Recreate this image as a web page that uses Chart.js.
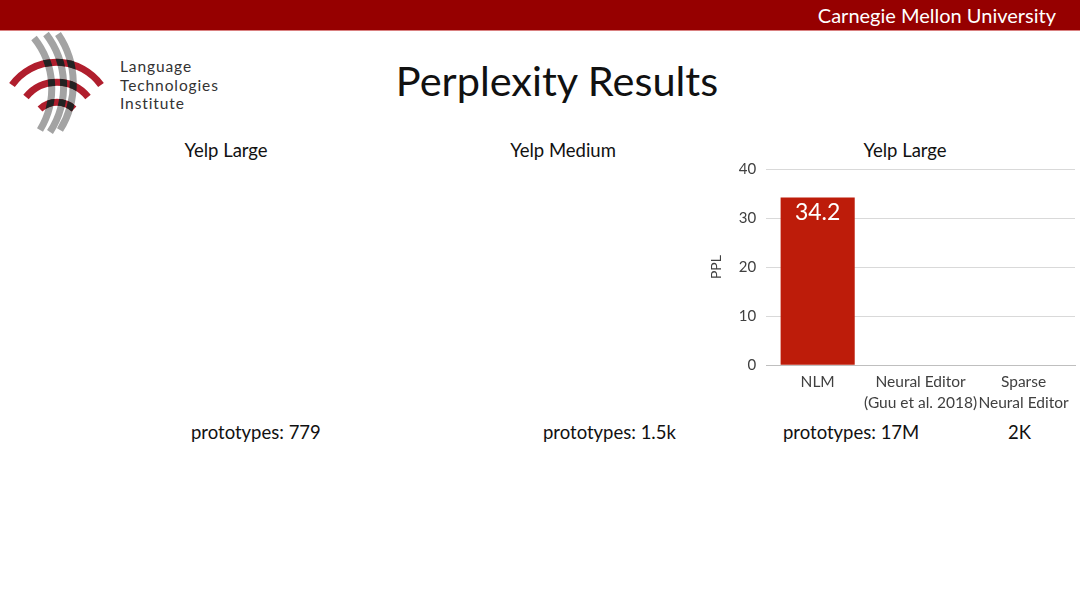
<!DOCTYPE html>
<html>
<head>
<meta charset="utf-8">
<title>Perplexity Results</title>
<script src="https://cdn.jsdelivr.net/npm/chart.js@4.4.0/dist/chart.umd.min.js"></script>
<style>
    body {
        margin: 0;
        width: 1080px;
        height: 607px;
        background: #ffffff;
        font-family: Lato, "Open Sans", sans-serif;
        overflow: hidden;
        position: relative;
    }
    #header {
        position: absolute;
        left: 0;
        top: 0;
        width: 1080px;
        height: 30px;
        background: #960000;
        border-bottom: 1px solid #d98080;
    }
    #header span {
        position: absolute;
        right: 24px;
        top: 3px;
        color: #ffffff;
        font-size: 20px;
    }
    .txt {
        position: absolute;
        color: #111111;
        white-space: nowrap;
    }
    #slideTitle {
        left: 0;
        width: 1114px;
        top: 55px;
        text-align: center;
        font-size: 41.5px;
    }
    .panelTitle {
        top: 139px;
        font-size: 18.5px;
        transform: translateX(-50%);
    }
    .proto {
        top: 421px;
        font-size: 18.5px;
    }
    .logoLine {
        left: 120px;
        font-size: 15.5px;
        line-height: 18.6px;
        letter-spacing: 0.9px;
        color: #333333;
    }
    #chartBox {
        position: absolute;
        left: 700px;
        top: 150px;
        width: 380px;
        height: 269px;
    }
</style>
</head>
<body>
<div id="header"><span>Carnegie Mellon University</span></div>

<svg width="120" height="140" style="position:absolute;left:0;top:30px" viewBox="0 0 120 140">
    <defs>
        <mask id="redMask">
            <rect x="0" y="0" width="120" height="140" fill="black"/>
            <g fill="none" stroke="white" stroke-width="7">
                <path d="M 12 55 A 55 55 0 0 1 101 55"/>
                <path d="M 26 67 A 40 40 0 0 1 88 67"/>
                <path d="M 40 79 A 25 25 0 0 1 74 79"/>
            </g>
        </mask>
    </defs>
    <g fill="none">
        <path d="M 34 8 A 80 80 0 0 1 40 100" stroke="#a3a3a3" stroke-width="7"/>
        <path d="M 46 4 A 85 85 0 0 1 50 102" stroke="#a3a3a3" stroke-width="7"/>
        <path d="M 58 4 A 88 88 0 0 1 60 100" stroke="#a3a3a3" stroke-width="7"/>
        <path d="M 12 55 A 55 55 0 0 1 101 55" stroke="#b01e2d" stroke-width="7"/>
        <path d="M 26 67 A 40 40 0 0 1 88 67" stroke="#b01e2d" stroke-width="7"/>
        <path d="M 40 79 A 25 25 0 0 1 74 79" stroke="#b01e2d" stroke-width="7"/>
        <g mask="url(#redMask)">
            <path d="M 34 8 A 80 80 0 0 1 40 100" stroke="#222222" stroke-width="7"/>
            <path d="M 46 4 A 85 85 0 0 1 50 102" stroke="#222222" stroke-width="7"/>
            <path d="M 58 4 A 88 88 0 0 1 60 100" stroke="#222222" stroke-width="7"/>
        </g>
    </g>
</svg>
<div class="txt logoLine" style="top:57px">Language</div>
<div class="txt logoLine" style="top:75.6px">Technologies</div>
<div class="txt logoLine" style="top:94.2px">Institute</div>

<div class="txt" id="slideTitle">Perplexity Results</div>

<div class="txt panelTitle" style="left:226px">Yelp Large</div>
<div class="txt panelTitle" style="left:563px">Yelp Medium</div>
<div class="txt panelTitle" style="left:905px">Yelp Large</div>

<div class="txt proto" style="left:191px">prototypes: 779</div>
<div class="txt proto" style="left:543px">prototypes: 1.5k</div>
<div class="txt proto" style="left:783px">prototypes: 17M</div>
<div class="txt proto" style="left:1008px">2K</div>

<div id="chartBox"><canvas id="pplChart"></canvas></div>

<script>
var categories = ['NLM', ['Neural Editor', '(Guu et al. 2018)'], ['Sparse', 'Neural Editor']];
var pplValues = [34.2, null, null];
var yTicks = [0, 10, 20, 30, 40];

document.addEventListener('DOMContentLoaded', function () {
    var chartElement = document.getElementById('pplChart');
    chartElement.width = 380;
    chartElement.height = 269;

    // white value label inside the top of the bar
    var barValueLabel = {
        id: 'barValueLabel',
        afterDatasetsDraw: function (chart) {
            var ctx = chart.ctx;
            var meta = chart.getDatasetMeta(0);
            ctx.save();
            ctx.fillStyle = '#ffffff';
            ctx.font = '23px Lato, "Open Sans", sans-serif';
            ctx.textAlign = 'center';
            ctx.textBaseline = 'top';
            meta.data.forEach(function (bar, i) {
                var v = pplValues[i];
                if (v === null) return;
                ctx.fillText(v.toFixed(1), bar.x, bar.y + 4);
            });
            ctx.restore();
        }
    };

    var pplChart = new Chart(chartElement, {
        type: 'bar',
        data: {
            labels: categories,
            datasets: [{
                label: 'PPL',
                data: pplValues,
                backgroundColor: '#bd1c0a',
                categoryPercentage: 1.0,
                barPercentage: 0.72
            }]
        },
        options: {
            responsive: false,
            maintainAspectRatio: false,
            animation: false,
            layout: {
                padding: { top: 6, right: 5, left: 8, bottom: 0 }
            },
            plugins: {
                legend: { display: false },
                tooltip: { enabled: false }
            },
            scales: {
                x: {
                    grid: { display: false, drawTicks: false },
                    border: { color: '#bfbfbf', width: 1 },
                    ticks: {
                        color: '#404040',
                        font: { family: 'Lato', size: 15.5, lineHeight: 1.35 },
                        maxRotation: 0,
                        autoSkip: false,
                        padding: 6
                    }
                },
                y: {
                    min: yTicks[0],
                    max: yTicks[yTicks.length - 1],
                    afterBuildTicks: function (axis) {
                        axis.ticks = yTicks.map(function (v) { return { value: v }; });
                    },
                    grid: { color: '#d9d9d9', drawTicks: false },
                    border: { display: false },
                    ticks: {
                        color: '#404040',
                        font: { family: 'Lato', size: 15 },
                        padding: 10
                    },
                    title: {
                        display: true,
                        text: 'PPL',
                        color: '#404040',
                        font: { family: 'Lato', size: 14 },
                        padding: { top: 0, bottom: 4 }
                    }
                }
            }
        },
        plugins: [barValueLabel]
    });
});
</script>
</body>
</html>
